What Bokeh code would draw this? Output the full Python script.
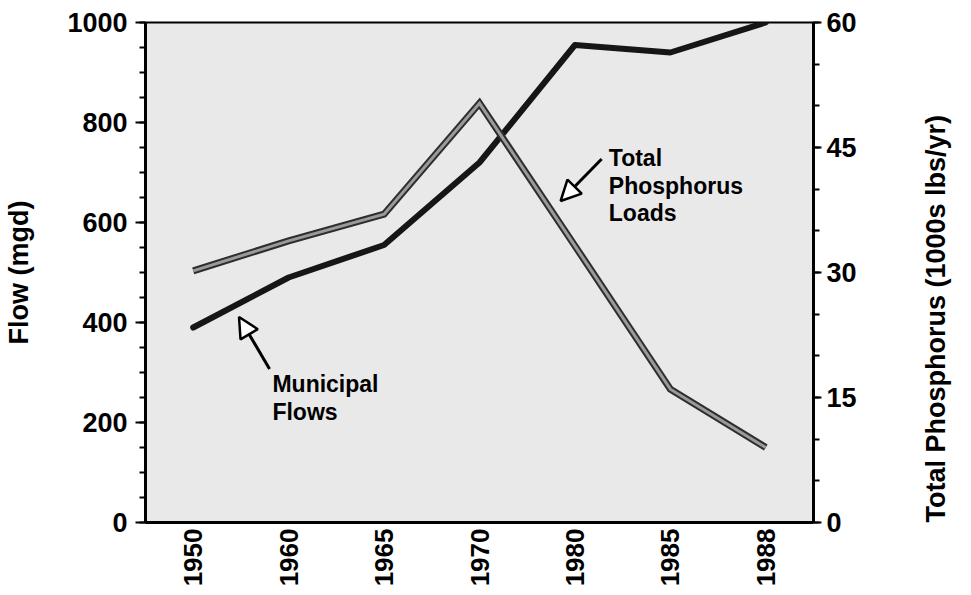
import math
from bokeh.plotting import figure
from bokeh.models import (Range1d, LinearAxis, SingleIntervalTicker, FactorRange,
                          Arrow, NormalHead, Label)
from bokeh.embed import file_html
from bokeh.resources import INLINE

# ---- data ----
years = ["1950", "1960", "1965", "1970", "1980", "1985", "1988"]
municipal_flow = [390, 490, 555, 720, 955, 940, 1000]          # mgd (left axis)
total_phosphorus = [30.2, 33.8, 37.0, 50.3, 33.2, 16.0, 9.0]   # 1000s lbs/yr (right axis)

FONT = "Liberation Sans"

p = figure(x_range=FactorRange(*years), y_range=Range1d(0, 1000),
           width=968, height=589, output_backend="svg", toolbar_location=None,
           min_border_left=145, min_border_right=154, min_border_top=22,
           min_border_bottom=67)
p.extra_y_ranges = {"tp": Range1d(0, 60)}

p.background_fill_color = "#e9e9e9"
p.border_fill_color = "white"
p.outline_line_color = "black"
p.outline_line_width = 2
p.xgrid.visible = False
p.ygrid.visible = False

def style_axis(ax, size):
    ax.major_label_text_font = FONT
    ax.major_label_text_font_style = "bold"
    ax.major_label_text_font_size = size
    ax.major_label_text_color = "black"
    ax.axis_label_text_color = "black"
    ax.axis_label_text_font = FONT
    ax.axis_label_text_font_style = "bold"
    ax.axis_line_color = "black"
    ax.axis_line_width = 3
    ax.major_tick_line_color = "black"
    ax.minor_tick_line_color = "black"
    ax.major_tick_line_width = 2
    ax.minor_tick_line_width = 2
    ax.major_tick_in = 0
    ax.minor_tick_in = 0

# left axis
ya = p.yaxis[0]
style_axis(ya, "27px")
ya.ticker = SingleIntervalTicker(interval=200, num_minor_ticks=4)
ya.axis_label = "Flow (mgd)"
ya.axis_label_text_font_size = "27px"
ya.axis_label_standoff = 30
ya.major_label_standoff = 8
ya.major_tick_out = 10
ya.minor_tick_out = 6

# right axis
ra = LinearAxis(y_range_name="tp",
                ticker=SingleIntervalTicker(interval=15, num_minor_ticks=3))
style_axis(ra, "27px")
ra.axis_label = "Total Phosphorus (1000s lbs/yr)"
ra.axis_label_text_font_size = "27px"
ra.axis_label_standoff = 76
ra.major_label_standoff = 5
ra.major_tick_out = 8
ra.minor_tick_out = 6
if "axis_label_orientation" in ra.properties():
    ra.axis_label_orientation = math.pi / 2
if "axis_label_align" in ra.properties():
    ra.axis_label_align = "start"
p.add_layout(ra, "right")

# bottom axis
xa = p.xaxis[0]
style_axis(xa, "26px")
xa.major_label_orientation = math.pi / 2
xa.major_label_standoff = 6
xa.major_tick_out = 0
xa.minor_tick_out = 0
xa.major_tick_line_color = None
xa.minor_tick_line_color = None

# series
p.line(years, municipal_flow, line_color="#161616", line_width=6,
       line_join="round", line_cap="round")
p.line(years, total_phosphorus, y_range_name="tp", line_color="#2e2e2e",
       line_width=7, line_join="miter")
p.line(years, total_phosphorus, y_range_name="tp", line_color="#9a9a9a",
       line_width=3, line_join="miter")

# annotations
p.add_layout(Arrow(end=NormalHead(size=20, fill_color="white", line_color="black",
                                  line_width=2.5),
                   x_start=4.78, y_start=727, x_end=4.35, y_end=643,
                   line_width=3, line_color="black"))
p.add_layout(Arrow(end=NormalHead(size=20, fill_color="white", line_color="black",
                                  line_width=2.5),
                   x_start=1.30, y_start=307, x_end=0.98, y_end=411,
                   line_width=3, line_color="black"))

for txt, x, y in [("Total", 4.855, 730), ("Phosphorus", 4.855, 674), ("Loads", 4.855, 620),
                  ("Municipal", 1.33, 278), ("Flows", 1.33, 222)]:
    p.add_layout(Label(x=x, y=y, text=txt, text_font=FONT, text_font_style="bold",
                       text_font_size="23px", text_baseline="alphabetic",
                       text_align="left", text_color="black"))

open("out.html", "w").write(file_html(p, INLINE))
